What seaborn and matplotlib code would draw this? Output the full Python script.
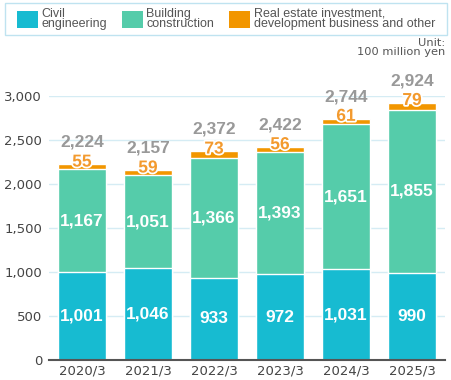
import matplotlib
matplotlib.use("Agg")
import matplotlib.pyplot as plt
import seaborn as sns
import pandas as pd
import numpy as np
from matplotlib.patches import Patch, Rectangle
import matplotlib.patheffects as pe

years = ["2020/3", "2021/3", "2022/3", "2023/3", "2024/3", "2025/3"]
civil = [1001, 1046, 933, 972, 1031, 990]
building = [1167, 1051, 1366, 1393, 1651, 1855]
real_estate = [55, 59, 73, 56, 61, 79]
totals = [2224, 2157, 2372, 2422, 2744, 2924]
yticks = [0, 500, 1000, 1500, 2000, 2500, 3000]

C_CIVIL = "#17BBD1"
C_BUILD = "#55CCAA"
C_RE = "#F29600"

sns.set_theme(style="white")
plt.rcParams['font.family'] = ['DejaVu Sans']

df = pd.DataFrame({"year": years, "civil": civil, "building": building, "re": real_estate})
df["cb"] = df["civil"] + df["building"]
df["all"] = df["cb"] + df["re"]

W, H = 452, 380
fig = plt.figure(figsize=(W / 100, H / 100), dpi=100)
ax = fig.add_axes([49/W, 20/H, 396/W, 264/H])

w = 0.73
sns.barplot(data=df, x="year", y="all", color=C_RE, saturation=1, width=w, ax=ax, zorder=2)
sns.barplot(data=df, x="year", y="cb", color=C_BUILD, saturation=1, width=w, ax=ax, zorder=3)
sns.barplot(data=df, x="year", y="civil", color=C_CIVIL, saturation=1, width=w, ax=ax, zorder=4)

ax.set_ylim(0, 3000)
ax.set_xlim(-0.5, 5.5)
ax.set_yticks(yticks)
ax.set_yticklabels([f"{v:,}" for v in yticks], fontsize=9.5, color="#444444")
ax.tick_params(axis="x", labelsize=9.5, labelcolor="#444444", length=0, pad=3)
ax.tick_params(axis="y", length=0, pad=5)
ax.set_xlabel("")
ax.set_ylabel("")
ax.yaxis.grid(True, color="#D5ECF4", linewidth=1, zorder=0)
ax.set_axisbelow(True)
for s in ["top", "right", "left"]:
    ax.spines[s].set_visible(False)
ax.spines["bottom"].set_color("#555555")
ax.spines["bottom"].set_linewidth(1.5)
ax.spines["bottom"].set_zorder(6)

numfont = "Liberation Sans"
for i in range(len(years)):
    ax.text(i, civil[i] / 2, f"{civil[i]:,}", ha="center", va="center", color="white",
            fontsize=12.5, fontweight="bold", family=numfont, zorder=7)
    ax.text(i, civil[i] + building[i] / 2, f"{building[i]:,}", ha="center", va="center",
            color="white", fontsize=12.5, fontweight="bold", family=numfont, zorder=7)
    ax.text(i, totals[i] + 25, f"{real_estate[i]}", ha="center", va="center", color="#F39A2E",
            fontsize=12.5, fontweight="bold", family=numfont, zorder=7,
            path_effects=[pe.withStroke(linewidth=2.5, foreground="white")])
    ax.text(i, totals[i] + 250, f"{totals[i]:,}", ha="center", va="center", color="#999999",
            fontsize=12.5, fontweight="bold", family=numfont, zorder=7, clip_on=False)

# legend frame
fig.patches.append(Rectangle((5/W, 1 - 35/H), 442/W, 32/H, transform=fig.transFigure,
                             facecolor="white", edgecolor="#BFE3F0", linewidth=1, zorder=0))

handles = [Patch(facecolor=C_CIVIL, edgecolor="none"),
           Patch(facecolor=C_BUILD, edgecolor="none"),
           Patch(facecolor=C_RE, edgecolor="none")]
labels = ["Civil\nengineering", "Building\nconstruction",
          "Real estate investment,\ndevelopment business and other"]
leg = fig.legend(handles, labels, loc="center left", bbox_to_anchor=(17/W, 1 - 19/H),
                 ncol=3, frameon=False, prop={"family": "Liberation Sans", "size": 9},
                 handlelength=1.65, handleheight=1.65,
                 handletextpad=0.3, columnspacing=1.2, borderpad=0, borderaxespad=0,
                 labelspacing=0.2)
for t in leg.get_texts():
    t.set_color("#555555")
    t.set_linespacing(0.85)

fig.text(445/W, 1 - 38/H, "Unit:\n100 million yen", ha="right", va="top",
         fontsize=8.2, color="#555555", linespacing=0.85)

fig.savefig("out.png", dpi=100)
